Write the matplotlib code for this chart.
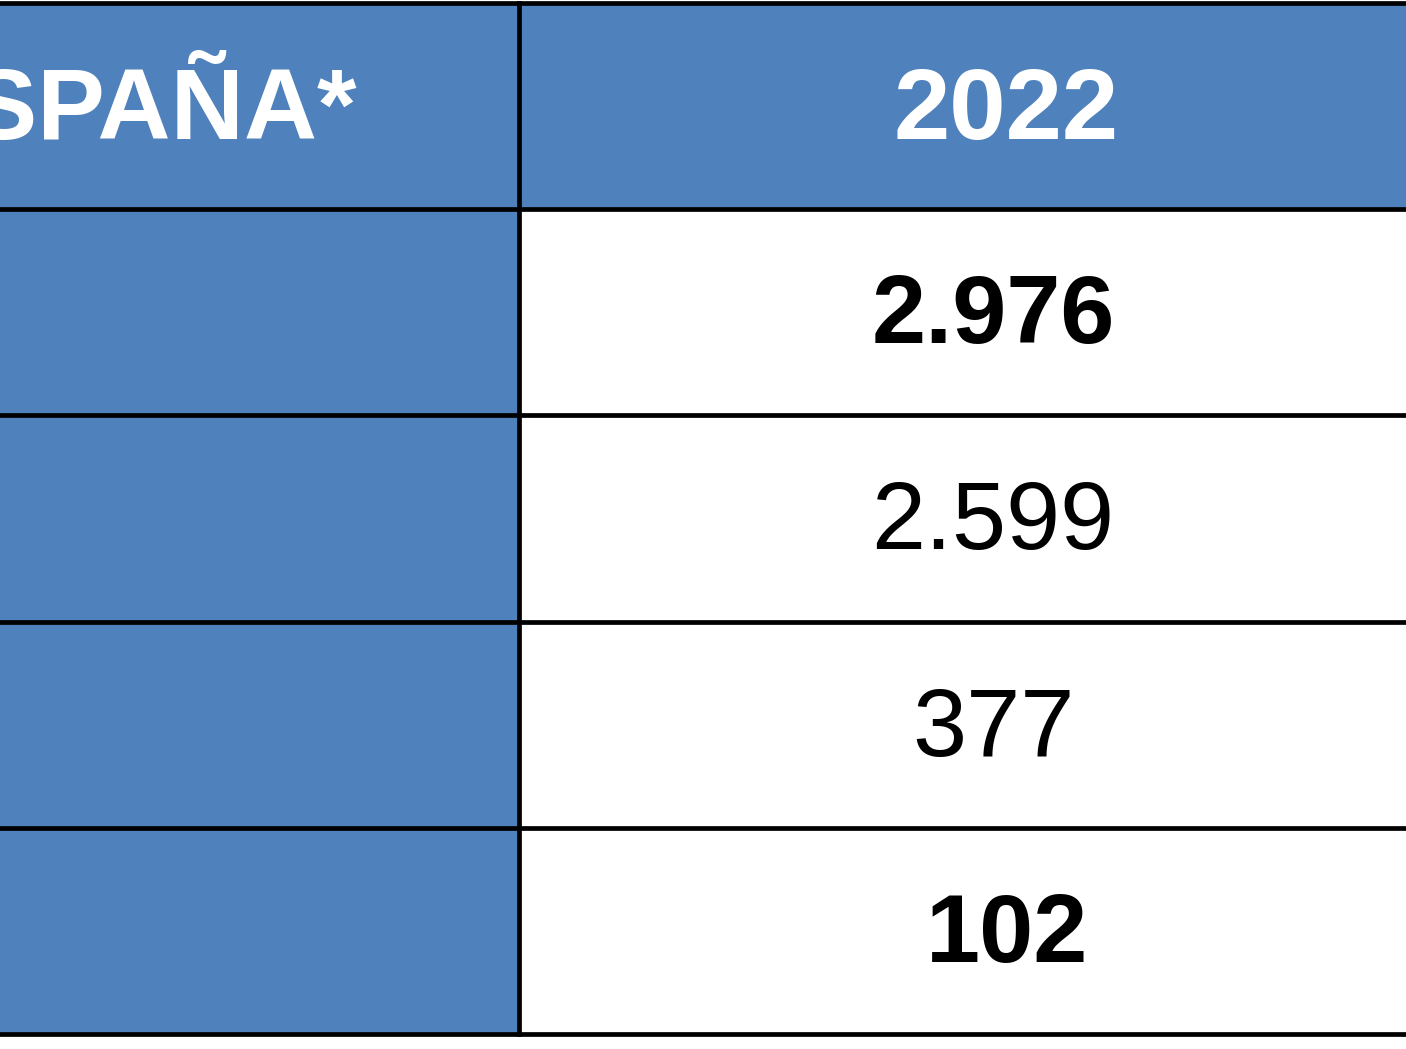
import matplotlib.pyplot as plt
from matplotlib.patches import Rectangle

# datos de la tabla (recorte)
header = ["ESPAÑA*", "2022"]
values = ["2.976", "2.599", "377", "102"]
bold_rows = [True, False, False, True]

BLUE = "#4F81BD"
W, H = 1406, 1049

# bordes de filas / columnas en pixeles
row_edges = [3, 209, 415, 622, 828, 1034]
col_split = 519
num_x = [993, 993, 993, 1007]  # centro del texto en la columna 2022
dy = -4  # pequeño ajuste vertical del texto

fig = plt.figure(figsize=(W / 100, H / 100), dpi=100)
ax = fig.add_axes([0, 0, 1, 1])
ax.set_xlim(0, W)
ax.set_ylim(H, 0)
ax.axis("off")

# fondo azul: cabecera completa + columna izquierda
ax.add_patch(Rectangle((-10, row_edges[0]), W + 20, row_edges[1] - row_edges[0], color=BLUE, lw=0))
ax.add_patch(Rectangle((-10, row_edges[1]), col_split + 10, row_edges[-1] - row_edges[1], color=BLUE, lw=0))

# lineas de la tabla
for y in row_edges:
    ax.plot([-10, W + 10], [y, y], color="black", lw=3.4, solid_capstyle="butt")
ax.plot([col_split, col_split], [row_edges[0], row_edges[-1]], color="black", lw=3.4)

# cabecera
hy = (row_edges[0] + row_edges[1]) / 2 + dy
ax.text(357, hy, header[0], ha="right", va="center_baseline", color="white",
        fontsize=73, fontweight="bold", family="Liberation Sans")
ax.text(1006, hy, header[1], ha="center", va="center_baseline", color="white",
        fontsize=73, fontweight="bold", family="Liberation Sans")

# valores
for i, (val, bold) in enumerate(zip(values, bold_rows)):
    cy = (row_edges[i + 1] + row_edges[i + 2]) / 2 + dy
    ax.text(num_x[i], cy, val, ha="center", va="center_baseline", color="black",
            fontsize=70, fontweight="bold" if bold else "normal", family="Liberation Sans")

fig.savefig("out.png", dpi=100)
